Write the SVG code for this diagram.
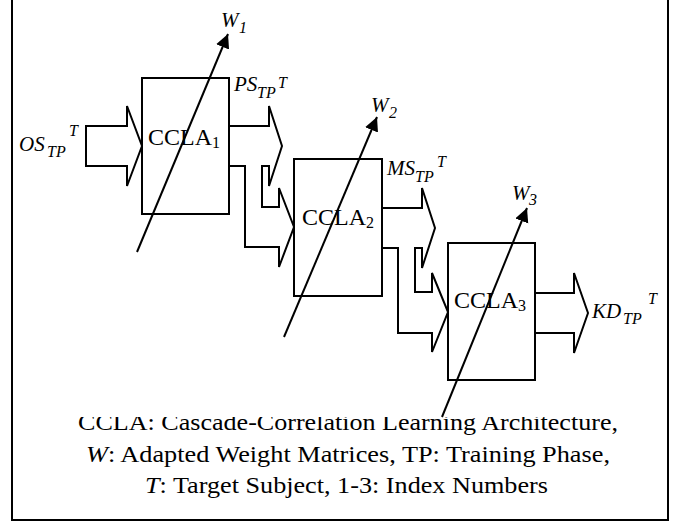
<svg xmlns="http://www.w3.org/2000/svg" width="690" height="524" viewBox="0 0 690 524">
<style>
.ln{fill:none;stroke:#000;stroke-width:2;stroke-linejoin:miter}
.bx{fill:#fff;stroke:#000;stroke-width:2}
.w{fill:none;stroke:#000;stroke-width:2}
text{font-family:"Liberation Serif","Times New Roman",serif;fill:#000}
.lab{font-size:21px;font-style:italic}
.sub{font-size:16px;font-style:italic}
.cc{font-size:24px}
.cs{font-size:16px}
.cap{font-size:23px}
</style>
<defs>
<marker id="ah" markerUnits="userSpaceOnUse" markerWidth="16" markerHeight="16" refX="14" refY="7" orient="auto">
<path d="M0,0 L14,7 L0,14 Z" fill="#000"/>
</marker>
<clipPath id="clip1"><rect x="0" y="417" width="690" height="40"/></clipPath>
</defs>
<rect width="690" height="524" fill="#fff"/>
<path class="ln" d="M12,-2 V520 H668 V-2"/>

<g id="connectors">
<path id="in-os" class="ln" d="M86,126 H127 V106 L142,146 L127,186 V166 H86 Z"/>
<path id="c12" class="ln" d="M229,126 H269 V106 L282,146 L269,186 V166 H262 V207 H279 V188 L294,227 L279,267 V247 H245 V166 H229"/>
<path id="c23" class="ln" d="M382,208 H422 V188 L435,228 L422,268 V248 H415 V292 H432 V273 L448,312 L432,352 V333 H398 V248 H382"/>
<path id="out-kd" class="ln" d="M535,293 H574 V273 L588,313 L574,353 V333 H535"/>
</g>

<g id="node-ccla1">
<rect class="bx" x="142" y="78" width="87" height="136"/>
<text x="148" y="145"><tspan class="cc">CCLA</tspan><tspan class="cs" dy="3">1</tspan></text>
</g>
<g id="node-ccla2">
<rect class="bx" x="294" y="159" width="88" height="137"/>
<text x="302" y="225"><tspan class="cc">CCLA</tspan><tspan class="cs" dy="3">2</tspan></text>
</g>
<g id="node-ccla3">
<rect class="bx" x="448" y="243" width="87" height="137"/>
<text x="454" y="308"><tspan class="cc">CCLA</tspan><tspan class="cs" dy="3">3</tspan></text>
</g>

<g id="weights">
<line class="w" x1="137" y1="252" x2="228" y2="34" marker-end="url(#ah)"/>
<line class="w" x1="284" y1="337" x2="377" y2="117" marker-end="url(#ah)"/>
<line class="w" x1="442" y1="417" x2="527" y2="208" marker-end="url(#ah)"/>
<text class="lab" x="221" y="27">W</text><text class="sub" x="239" y="33">1</text>
<text class="lab" x="371" y="112">W</text><text class="sub" x="389" y="118">2</text>
<text class="lab" x="512" y="200">W</text><text class="sub" x="529" y="205">3</text>
</g>

<g id="labels">
<text class="lab" x="19" y="151">OS</text><text class="sub" x="47" y="157">TP</text><text class="sub" x="69" y="136">T</text>
<text class="lab" x="234" y="91">PS</text><text class="sub" x="257" y="98">TP</text><text class="sub" x="278" y="88">T</text>
<text class="lab" x="387" y="175">MS</text><text class="sub" x="415" y="182">TP</text><text class="sub" x="437" y="167">T</text>
<text class="lab" x="592" y="318">KD</text><text class="sub" x="623" y="324">TP</text><text class="sub" x="648" y="304">T</text>
</g>

<g id="caption">
<text class="cap" x="78" y="430" textLength="540" lengthAdjust="spacingAndGlyphs" clip-path="url(#clip1)">CCLA: Cascade-Correlation Learning Architecture,</text>
<text class="cap" x="86" y="462" textLength="524" lengthAdjust="spacingAndGlyphs"><tspan font-style="italic">W</tspan>: Adapted Weight Matrices, TP: Training Phase,</text>
<text class="cap" x="145" y="493" textLength="403" lengthAdjust="spacingAndGlyphs"><tspan font-style="italic">T</tspan>: Target Subject, 1-3: Index Numbers</text>
</g>
</svg>
